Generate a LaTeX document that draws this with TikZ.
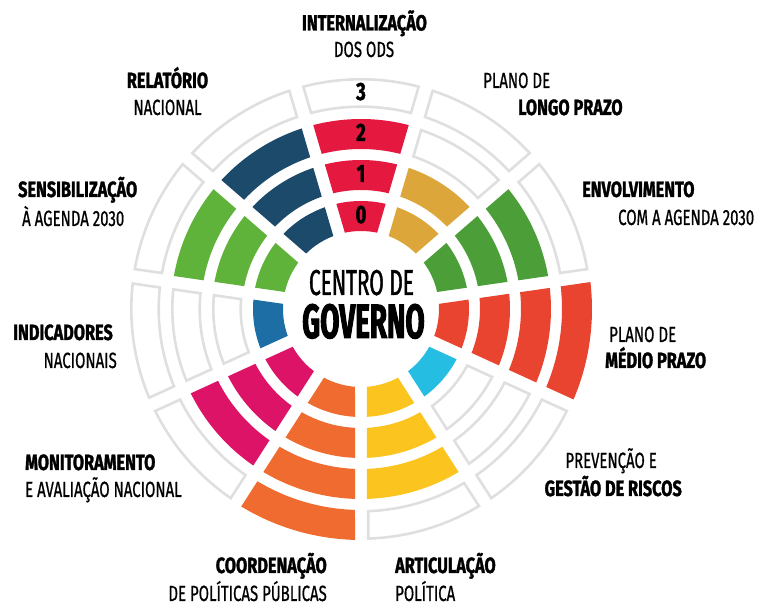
\documentclass[tikz,border=0pt]{standalone}
\usepackage{fontspec}
\setmainfont{Fira Sans}
\newfontfamily\labfont[FakeStretch=0.68,FakeBold=0.7]{Fira Sans}
\newfontfamily\labbfont[FakeStretch=0.74,BoldFeatures={FakeBold=1.4}]{Fira Sans}
\newfontfamily\midfont[FakeStretch=0.58,FakeBold=1.2]{Fira Sans}
\newfontfamily\midbfont[FakeStretch=0.58,BoldFeatures={FakeBold=2}]{Fira Sans}
\definecolor{ccint}{HTML}{E5183F}
\definecolor{cclongo}{HTML}{DDA63A}
\definecolor{ccenv}{HTML}{4C9F38}
\definecolor{ccmedio}{HTML}{E8442F}
\definecolor{ccprev}{HTML}{26BDE2}
\definecolor{ccartic}{HTML}{FBC41E}
\definecolor{cccoord}{HTML}{F06B2F}
\definecolor{ccmonit}{HTML}{DD1367}
\definecolor{ccindic}{HTML}{1C6EA4}
\definecolor{ccsens}{HTML}{5FB23A}
\definecolor{ccrel}{HTML}{1B4A6B}
\definecolor{ccgrey}{HTML}{DFDFDF}
% one ring piece: angles #2..#3, radii #4..#5, half gap #6
\newcommand\segment[6][]{%
  \pgfmathsetmacro\sgai{#2+asin(#6/(#4))}
  \pgfmathsetmacro\sgao{#2+asin(#6/(#5))}
  \pgfmathsetmacro\sgbi{#3-asin(#6/(#4))}
  \pgfmathsetmacro\sgbo{#3-asin(#6/(#5))}
  \pgfmathsetmacro\sgri{#4}
  \pgfmathsetmacro\sgro{#5}
  \path[#1] (\sgai:\sgri pt) -- (\sgao:\sgro pt)
    arc[start angle=\sgao, end angle=\sgbo, radius=\sgro pt]
    -- (\sgbi:\sgri pt)
    arc[start angle=\sgbi, end angle=\sgai, radius=\sgri pt] -- cycle;}
\tikzset{
  lab/.style={inner sep=0pt,font=\labfont\fontsize{22}{26}\selectfont},
  labb/.style={inner sep=0pt,font=\labbfont\bfseries\fontsize{22}{26}\selectfont},
  ringnum/.style={inner sep=0pt,anchor=base,font=\labbfont\bfseries\fontsize{25}{26}\selectfont},
  emptyseg/.style={draw=ccgrey,line width=2.6pt},
}
\begin{document}
\begin{tikzpicture}[x=1pt,y=1pt]
\useasboundingbox (-361,-300) rectangle (400,309);
\foreach \col/\lev [count=\k from 0] in {ccint/2,cclongo/1,ccenv/2,ccmedio/3,ccprev/0,ccartic/2,cccoord/3,ccmonit/2,ccindic/0,ccsens/2,ccrel/2}{
  \pgfmathsetmacro\angA{90-(\k+0.5)*360/11}
  \pgfmathsetmacro\angB{\angA+360/11}
  \foreach \rr in {0,...,3}{
    \pgfmathsetmacro\rin{78+41*\rr}
    \pgfmathsetmacro\rout{\rin+30}
    \ifnum\rr>\lev\relax
      \segment[emptyseg]{\angA}{\angB}{\rin+1.3}{\rout-1.3}{7.3}
    \else
      \segment[fill=\col]{\angA}{\angB}{\rin}{\rout}{6}
    \fi
  }
}
\foreach \n in {0,...,3}
  \node[ringnum] (num\n) at (0,{86+41*\n}) {\n};

\node[inner sep=0pt,anchor=base,font=\midfont\fontsize{36}{40}\selectfont] (cg1) at (0.5,14) {CENTRO DE};
\node[inner sep=0pt,anchor=base,font=\midbfont\bfseries\fontsize{48}{50}\selectfont] (cg2) at (2.5,-29) {GOVERNO};

\node[labb,anchor=base] (int1) at (3.5,278.5) {INTERNALIZAÇÃO};
\node[lab,anchor=base] (int2) at (3,252) {DOS ODS};
\node[lab,anchor=base west] (lon1) at (122,221) {PLANO DE};
\node[labb,anchor=base west] (lon2) at (157,194) {LONGO PRAZO};
\node[labb,anchor=base west] (env1) at (221,112) {ENVOLVIMENTO};
\node[lab,anchor=base west] (env2) at (257,84) {COM A AGENDA 2030};
\node[lab,anchor=base west] (med1) at (248,-33) {PLANO DE};
\node[labb,anchor=base west] (med2) at (244,-59) {MÉDIO PRAZO};
\node[lab,anchor=base east] (prev1) at (296,-159) {PREVENÇÃO E};
\node[labb,anchor=base east] (prev2) at (321,-187) {GESTÃO DE RISCOS};
\node[labb,anchor=base west] (art1) at (34,-264) {ARTICULAÇÃO};
\node[lab,anchor=base west] (art2) at (34,-292) {POLÍTICA};
\node[labb,anchor=base east] (coo1) at (-34,-264) {COORDENAÇÃO};
\node[lab,anchor=base east] (coo2) at (-34,-292) {DE POLÍTICAS PÚBLICAS};
\node[labb,anchor=base west] (mon1) at (-336,-161) {MONITORAMENTO};
\node[lab,anchor=base west] (mon2) at (-336,-188) {E AVALIAÇÃO NACIONAL};
\node[labb,anchor=base east] (ind1) at (-248,-31) {INDICADORES};
\node[lab,anchor=base east] (ind2) at (-244,-59) {NACIONAIS};
\node[labb,anchor=base west] (sen1) at (-343,112) {SENSIBILIZAÇÃO};
\node[lab,anchor=base west] (sen2) at (-339,83) {À AGENDA 2030};
\node[labb,anchor=base] (rel1) at (-193.5,221) {RELATÓRIO};
\node[lab,anchor=base] (rel2) at (-193.5,194) {NACIONAL};
\end{tikzpicture}
\end{document}
